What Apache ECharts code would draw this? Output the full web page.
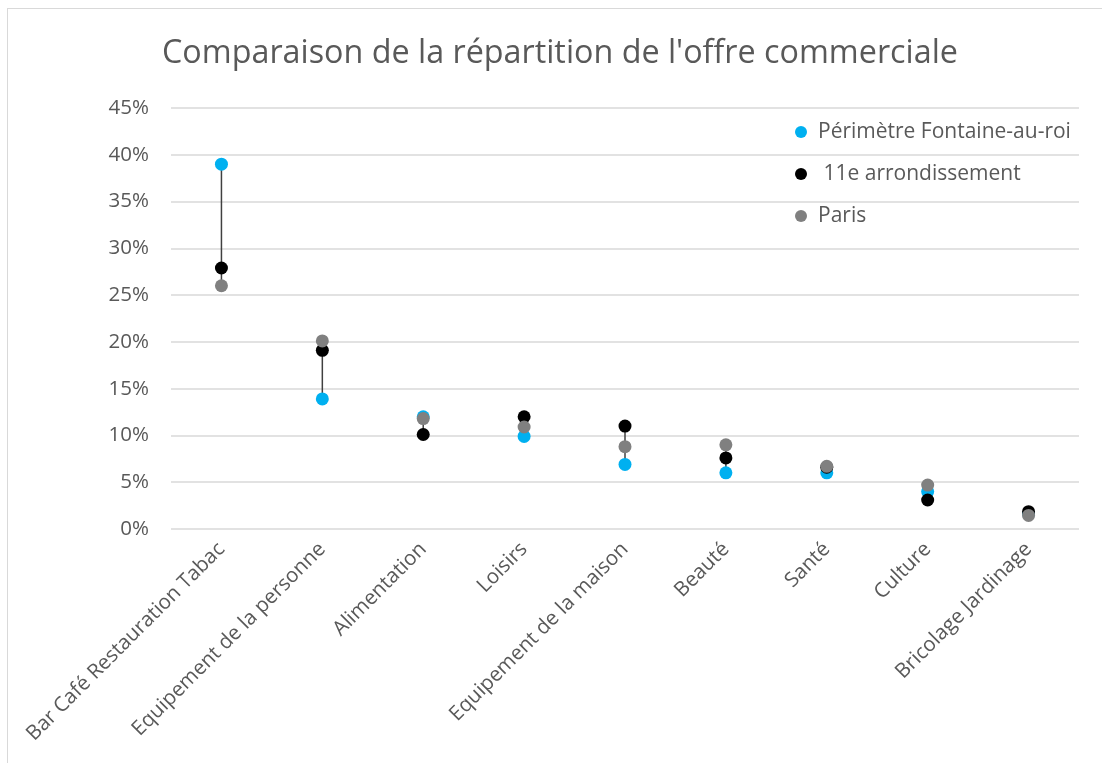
<!DOCTYPE html>
<html>
<head>
<meta charset="utf-8">
<script src="https://cdn.jsdelivr.net/npm/echarts@6/dist/echarts.min.js"></script>
<style>
  html, body { margin: 0; padding: 0; background: #fff; }
  #frame {
    position: absolute; left: 7px; top: 8px; width: 1110px; height: 770px;
    border: 1.5px solid #d9d9d9; box-sizing: border-box;
  }
  #chart { position: absolute; left: 0; top: 0; width: 1102px; height: 763px; }
</style>
</head>
<body>
<div id="frame"></div>
<div id="chart"></div>
<script>
const categories = [
  'Bar Café Restauration Tabac',
  'Equipement de la personne',
  'Alimentation',
  'Loisirs',
  'Equipement de la maison',
  'Beauté',
  'Santé',
  'Culture',
  'Bricolage Jardinage'
]
// parts en %
const fontaineAuRoi = [39.0, 13.9, 12.0, 9.9, 6.9, 6.0, 6.0, 4.0, 1.6]
const onzieme = [27.9, 19.1, 10.1, 12.0, 11.0, 7.6, 6.6, 3.1, 1.85]
const paris = [26.0, 20.1, 11.8, 10.9, 8.8, 9.0, 6.7, 4.7, 1.45]
const seriesNames = ['Périmètre Fontaine-au-roi', ' 11e arrondissement', 'Paris']
const seriesColors = ['#00b0f0', '#000000', '#808080']

const textColor = '#595959'
const font = '"Open Sans", "Noto Sans", sans-serif'

// lignes haut-bas : min et max des trois séries par catégorie
const highLow = categories.map((c, i) => {
  const vals = [fontaineAuRoi[i], onzieme[i], paris[i]]
  return [i, Math.min(...vals), Math.max(...vals)]
})

const chart = echarts.init(document.getElementById('chart'))

const option = {
  animation: false,
  title: {
    text: "Comparaison de la répartition de l'offre commerciale",
    left: 157,
    top: 33,
    textStyle: { color: textColor, fontFamily: font, fontSize: 32.3, fontWeight: 'normal' }
  },
  legend: {
    orient: 'vertical',
    left: 790,
    top: 112,
    itemWidth: 12,
    itemHeight: 12,
    itemGap: 12,
    icon: 'circle',
    data: seriesNames,
    textStyle: { color: textColor, fontFamily: font, fontSize: 21, lineHeight: 30, padding: [0, 0, 0, 6] }
  },
  grid: { left: 171, right: 23, top: 108, bottom: 234 },
  xAxis: {
    type: 'category',
    data: categories,
    axisLine: { show: false },
    axisTick: { show: false },
    axisLabel: {
      rotate: 45,
      interval: 0,
      margin: 17,
      color: textColor,
      fontFamily: font,
      fontSize: 20.5
    }
  },
  yAxis: {
    type: 'value',
    min: 0,
    max: 45,
    interval: 5,
    axisLine: { show: false },
    axisTick: { show: false },
    axisLabel: {
      formatter: '{value}%',
      margin: 22,
      color: textColor,
      fontFamily: font,
      fontSize: 20.5
    },
    splitLine: { lineStyle: { color: '#d9d9d9', width: 1.5 } }
  },
  series: [
    {
      type: 'custom',
      name: 'highlow',
      z: 1,
      silent: true,
      data: highLow,
      renderItem: function (params, api) {
        const low = api.coord([api.value(0), api.value(1)])
        const high = api.coord([api.value(0), api.value(2)])
        return {
          type: 'line',
          shape: { x1: low[0], y1: low[1], x2: high[0], y2: high[1] },
          style: { stroke: '#404040', lineWidth: 1.5 }
        }
      }
    },
    {
      name: seriesNames[0],
      type: 'scatter',
      z: 3,
      symbolSize: 13,
      itemStyle: { color: seriesColors[0], opacity: 1 },
      data: fontaineAuRoi
    },
    {
      name: seriesNames[1],
      type: 'scatter',
      z: 4,
      symbolSize: 13,
      itemStyle: { color: seriesColors[1], opacity: 1 },
      data: onzieme
    },
    {
      name: seriesNames[2],
      type: 'scatter',
      z: 5,
      symbolSize: 13,
      itemStyle: { color: seriesColors[2], opacity: 1 },
      data: paris
    }
  ]
}

chart.setOption(option)
</script>
</body>
</html>
